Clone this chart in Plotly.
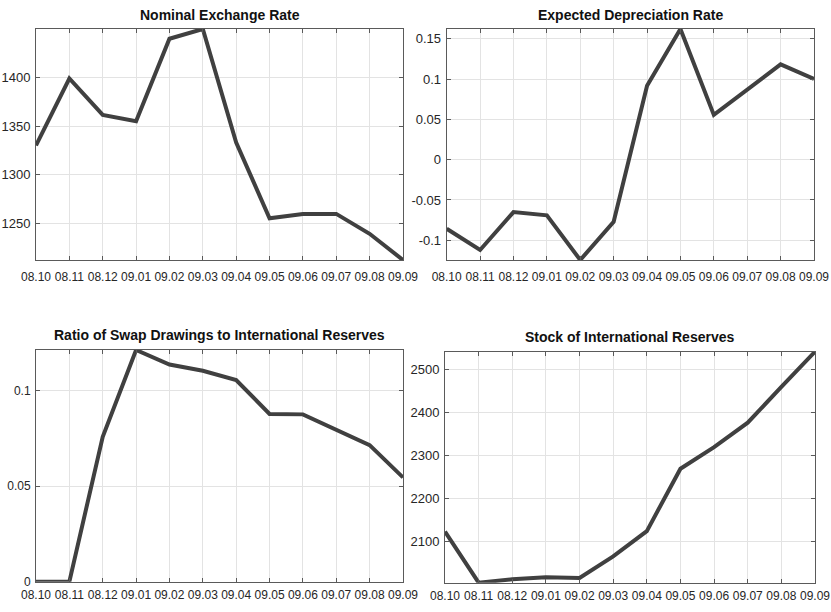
import plotly.graph_objects as go

months = ["08.10", "08.11", "08.12", "09.01", "09.02", "09.03",
          "09.04", "09.05", "09.06", "09.07", "09.08", "09.09"]

exchange_rate = [1330, 1399, 1361.5, 1355, 1440, 1450, 1333, 1255, 1259.5, 1259.5, 1239, 1212]
depreciation = [-0.0856, -0.112, -0.065, -0.069, -0.1244, -0.077, 0.0917, 0.162, 0.0555, 0.0867, 0.1182, 0.100]
swap_ratio = [0.0, 0.0, 0.0759, 0.1213, 0.1137, 0.1104, 0.1056, 0.0878, 0.0876, 0.0794, 0.0715, 0.0546]
reserves = [2124, 2005, 2013, 2017.5, 2016, 2066, 2125, 2270, 2320, 2377, 2460, 2542]

titles = ["Nominal Exchange Rate", "Expected Depreciation Rate",
          "Ratio of Swap Drawings to International Reserves", "Stock of International Reserves"]

y_ticks = [
    ([1250, 1300, 1350, 1400], ["1250", "1300", "1350", "1400"]),
    ([-0.1, -0.05, 0, 0.05, 0.1, 0.15], ["-0.1", "-0.05", "0", "0.05", "0.1", "0.15"]),
    ([0, 0.05, 0.1], ["0", "0.05", "0.1"]),
    ([2100, 2200, 2300, 2400, 2500], ["2100", "2200", "2300", "2400", "2500"]),
]

W, H = 831, 612
# pixel boxes (left, right, top, bottom)
boxes = [(36, 403, 29, 260), (446.7, 814, 29, 260), (36, 403, 350, 581.7), (445, 815, 351.7, 582.7)]
title_y = [15, 15, 335, 336.5]

series = [exchange_rate, depreciation, swap_ratio, reserves]
FONT = "Liberation Sans, Arial, sans-serif"
LINE = "#404040"
AX = "#5a5a5a"
GRID = "#e3e3e3"


def px(v):
    return v / W


def py(v):
    return 1 - v / H


fig = go.Figure()
layout = dict(width=W, height=H, margin=dict(l=0, r=0, t=0, b=0, autoexpand=False),
              paper_bgcolor="white", plot_bgcolor="white", showlegend=False,
              font=dict(family=FONT, size=13, color="#262626"))
annotations = []
for i, (vals, box) in enumerate(zip(series, boxes)):
    n = i + 1
    xa = "x" if n == 1 else f"x{n}"
    ya = "y" if n == 1 else f"y{n}"
    fig.add_trace(go.Scatter(x=list(range(len(months))), y=vals, mode="lines",
                             line=dict(color=LINE, width=4), xaxis=xa, yaxis=ya,
                             hoverinfo="skip"))
    l, r, t, b = box
    vmin, vmax = min(vals), max(vals)
    xkey = "xaxis" if n == 1 else f"xaxis{n}"
    ykey = "yaxis" if n == 1 else f"yaxis{n}"
    standoff = 6 if i < 2 else 2
    layout[xkey] = dict(domain=[px(l), px(r)], anchor=ya, range=[0, len(months) - 1],
                        tickmode="array", tickvals=list(range(len(months))), ticktext=months,
                        tickangle=0, automargin=False,
                        showline=True, linecolor=AX, linewidth=1, mirror="allticks",
                        ticks="inside", ticklen=4, tickcolor=AX,
                        showgrid=True, gridcolor=GRID, gridwidth=1, zeroline=False,
                        tickfont=dict(family=FONT, size=12, color="#262626"),
                        ticklabelstandoff=standoff, fixedrange=True)
    tv, tt = y_ticks[i]
    layout[ykey] = dict(domain=[py(b), py(t)], anchor=xa, range=[vmin, vmax],
                        tickmode="array", tickvals=tv, ticktext=tt, automargin=False,
                        showline=True, linecolor=AX, linewidth=1, mirror="allticks",
                        ticks="inside", ticklen=4, tickcolor=AX,
                        showgrid=True, gridcolor=GRID, gridwidth=1, zeroline=False,
                        tickfont=dict(family=FONT, size=13 if i != 2 else 12, color="#262626"),
                        ticklabelstandoff=2, fixedrange=True)
    annotations.append(dict(text=f"<b>{titles[i]}</b>", x=(px(l) + px(r)) / 2, y=py(title_y[i]),
                            xref="paper", yref="paper", xanchor="center", yanchor="middle",
                            showarrow=False, font=dict(family=FONT, size=14, color="#111111")))
layout["annotations"] = annotations
fig.update_layout(**layout)
fig.write_html("out.html", config={"displayModeBar": False},
               post_script="document.body.style.margin='0';document.body.style.overflow='hidden';")
